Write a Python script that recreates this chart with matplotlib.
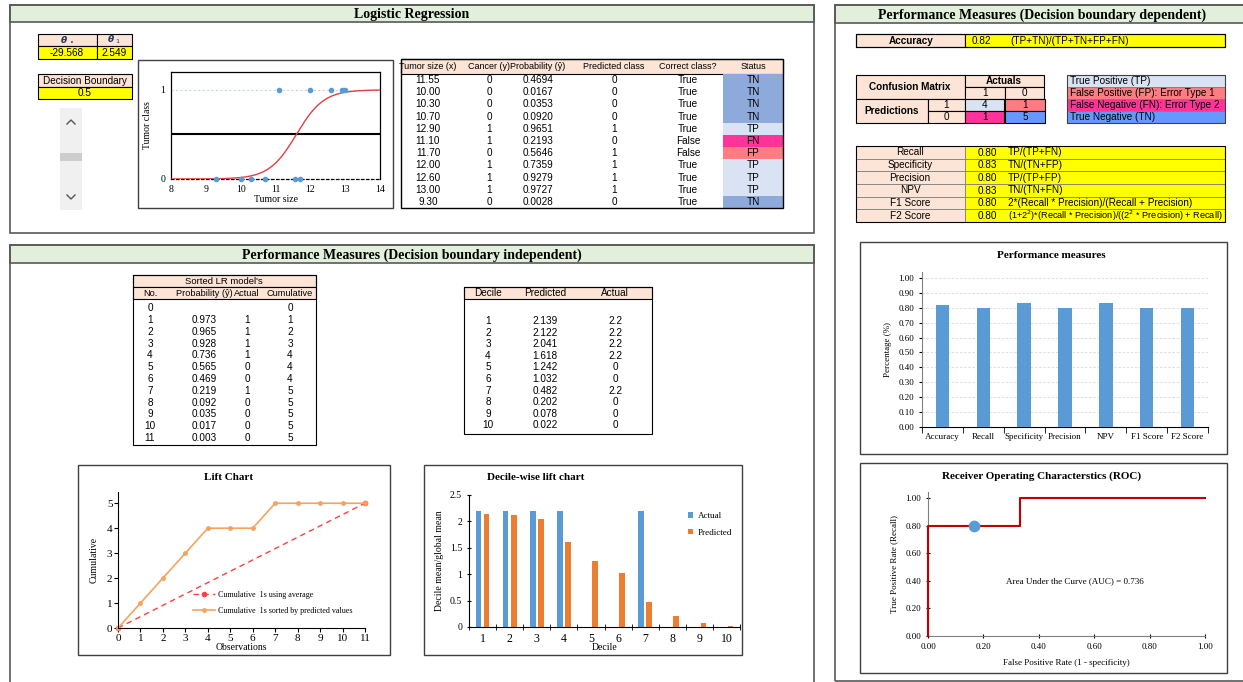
import numpy as np
import matplotlib
matplotlib.use("Agg")
import matplotlib.pyplot as plt
from matplotlib.patches import Rectangle
from matplotlib.lines import Line2D
from matplotlib.ticker import FormatStrFormatter, FixedLocator

# --- model and training data ---
theta0 = -29.568
theta1 = 2.549
boundary = 0.5

tumor_size = [11.55, 10.00, 10.30, 10.70, 12.90, 11.10, 11.70, 12.00, 12.60, 13.00, 9.30]
cancer = [0, 0, 0, 0, 1, 1, 0, 1, 1, 1, 0]
probability = [0.4694, 0.0167, 0.0353, 0.0920, 0.9651, 0.2193, 0.5646, 0.7359, 0.9279, 0.9727, 0.0028]
predicted = [0, 0, 0, 0, 1, 0, 1, 1, 1, 1, 0]
correct = ["True", "True", "True", "True", "True", "False", "False", "True", "True", "True", "True"]
status = ["TN", "TN", "TN", "TN", "TP", "FN", "FP", "TP", "TP", "TP", "TN"]

# --- sorted model output ---
sorted_no = list(range(12))
sorted_prob = ["", "0.973", "0.965", "0.928", "0.736", "0.565", "0.469", "0.219", "0.092", "0.035", "0.017", "0.003"]
sorted_actual = ["", 1, 1, 1, 1, 0, 0, 1, 0, 0, 0, 0]
cumulative = [0, 1, 2, 3, 4, 4, 4, 5, 5, 5, 5, 5]

# --- decile lift ---
deciles = list(range(1, 11))
decile_pred = [2.139, 2.122, 2.041, 1.618, 1.242, 1.032, 0.482, 0.202, 0.078, 0.022]
decile_actual = [2.2, 2.2, 2.2, 2.2, 0, 0, 2.2, 0, 0, 0]

# --- decision-boundary dependent measures ---
accuracy = 0.82
conf_counts = [[4, 1], [1, 5]]
metric_names = ["Recall", "Specificity", "Precision", "NPV", "F1 Score", "F2 Score"]
metric_values = [0.80, 0.83, 0.80, 0.83, 0.80, 0.80]
metric_formulas = ["TP/(TP+FN)", "TN/(TN+FP)", "TP/(TP+FP)", "TN/(TN+FN)",
                   "2*(Recall * Precision)/(Recall + Precision)",
                   "(1+2$^2$)*(Recall * Precision)/((2$^2$ * Precision) + Recall)"]
bar_labels = ["Accuracy", "Recall", "Specificity", "Precision", "NPV", "F1 Score", "F2 Score"]
bar_values = [accuracy] + metric_values

roc_fpr = [0, 0, 1 / 3, 1 / 3, 1]
roc_tpr = [0, 0.8, 0.8, 1, 1]
op_fpr, op_tpr = 1 / 6, 0.8
auc = 0.736

# colours
PEACH = "#fce4d6"
YELLOW = "#ffff00"
GREEN = "#e2efda"
C_TP = "#dae3f3"
C_FP = "#ff7c80"
C_FN = "#ff3399"
C_TN = "#8eaadb"
C_TN2 = "#6699ff"
BLUE = "#5b9bd5"
ORANGE = "#ed7d31"
status_colors = {"TP": C_TP, "FP": C_FP, "FN": C_FN, "TN": C_TN}

W, H = 1243, 682
fig = plt.figure(figsize=(W / 100, H / 100), dpi=100)
fig.patch.set_facecolor("white")

SANS = "Liberation Sans"
SERIF = "Liberation Serif"


def fx(x):
    return x / W


def fy(y):
    return 1 - y / H


def rect(x0, y0, x1, y1, fc="none", ec="black", lw=0.8, z=1):
    fig.patches.append(Rectangle((fx(x0), fy(y1)), (x1 - x0) / W, (y1 - y0) / H,
                                 transform=fig.transFigure, fc=fc, ec=ec, lw=lw, zorder=z))


def txt(x, y, s, ha="center", size=7.2, family=SANS, weight="normal", color="black", **kw):
    fig.text(fx(x), fy(y), s, ha=ha, va="center", fontsize=size, family=family,
             weight=weight, color=color, zorder=4, **kw)


def line(xs, ys, color="black", lw=1.0):
    fig.lines.append(Line2D([fx(v) for v in xs], [fy(v) for v in ys],
                            transform=fig.transFigure, color=color, lw=lw, zorder=3))


def axes_px(x0, y0, x1, y1):
    a = fig.add_axes([fx(x0), fy(y1), (x1 - x0) / W, (y1 - y0) / H])
    a.set_zorder(5)
    a.patch.set_alpha(0)
    return a


# --- panel frames with green headers ---
def panel(x0, y0, x1, y1, hy, title):
    rect(x0, y0, x1, hy, fc=GREEN, ec="#595959", lw=1.2)
    rect(x0, y0, x1, y1, fc="none", ec="#595959", lw=1.2)
    txt((x0 + x1) / 2, (y0 + hy) / 2 + 1, title, size=10, family=SERIF, weight="bold")


panel(10, 5, 814, 233, 22, "Logistic Regression")
panel(10, 245, 814, 690, 263, "Performance Measures (Decision boundary independent)")
panel(835, 5, 1250, 681, 23, "Performance Measures (Decision boundary dependent)")

# --- parameter cells ---
rect(38, 34, 97, 46, fc=PEACH)
rect(97, 34, 132, 46, fc=PEACH)
rect(38, 46, 97, 59, fc=YELLOW)
rect(97, 46, 132, 59, fc=YELLOW)
txt(67, 40, r"$\boldsymbol{\theta}$ $_\bullet$", size=6.5, color="#1f3864")
txt(114, 40, r"$\boldsymbol{\theta}$ $_1$", size=6.5, color="#1f3864")
txt(67, 53, f"{theta0:.3f}")
txt(114, 53, f"{theta1:.3f}")

rect(38, 74, 132, 87, fc=PEACH)
rect(38, 87, 132, 99, fc=YELLOW)
txt(85, 80.5, "Decision Boundary")
txt(85, 93, f"{boundary}")

# scrollbar
rect(60, 108, 82, 210, fc="#f0f0f0", ec="none")
rect(60, 153, 82, 161, fc="#cdcdcd", ec="none")
line([67, 71, 75], [124, 120, 124], color="#555555", lw=1)
line([67, 71, 75], [195, 199, 195], color="#555555", lw=1)

# --- logistic regression chart ---
rect(138, 60, 393, 208, fc="white", ec="#404040", lw=1.0)
ax = axes_px(171, 72, 380, 179)
xs = np.linspace(8, 14, 300)
ax.plot(xs, 1 / (1 + np.exp(-(theta0 + theta1 * xs))), color="#e04040", lw=1.0, zorder=3)
ax.axhline(boundary, color="black", lw=1.5)
ax.axhline(1, color="#c9d6e8", lw=0.8, ls=(0, (2, 2)))
ax.scatter(tumor_size, cancer, s=9, color=BLUE, zorder=4, clip_on=False)
ax.set_xlim(8, 14)
ax.set_ylim(0, 1.2)
ax.set_xticks(range(8, 15))
ax.set_yticks([0, 1])
ax.spines["bottom"].set_linestyle((0, (2, 2)))
for s in ax.spines.values():
    s.set_linewidth(0.9)
ax.tick_params(length=0, labelsize=7, pad=4)
for lab in ax.get_xticklabels() + ax.get_yticklabels():
    lab.set_family(SERIF)
ax.set_xlabel("Tumor size", family=SERIF, fontsize=7, labelpad=1)
ax.set_ylabel("Tumor class", family=SERIF, fontsize=7, labelpad=6)

# --- data table ---
cols_x = [428, 489, 538, 614, 688, 753]
headers = ["Tumor size (x)", "Cancer (y)", "Probability (ŷ)", "Predicted class", "Correct class?", "Status"]
rect(401, 59, 783, 74, fc=PEACH)
for cx, h in zip(cols_x, headers):
    txt(cx, 66.5, h, size=6.5)
row_h = (208 - 74) / len(tumor_size)
for i in range(len(tumor_size)):
    cy = 74 + row_h * (i + 0.5)
    rect(723, 74 + row_h * i, 783, 74 + row_h * (i + 1), fc=status_colors[status[i]], ec="none")
    vals = [f"{tumor_size[i]:.2f}", str(cancer[i]), f"{probability[i]:.4f}", str(predicted[i]),
            correct[i], status[i]]
    for cx, v in zip(cols_x, vals):
        txt(cx, cy, v)
rect(401, 59, 783, 208, fc="none", lw=1.0)

# --- sorted model table ---
rect(133, 275, 316, 287, fc=PEACH)
rect(133, 287, 316, 299, fc=PEACH)
txt(224, 281, "Sorted LR model's", size=6.8)
scx = [150, 204, 247, 290]
for cx, h in zip(scx, ["No.", "Probability (ŷ)", "Actual", "Cumulative"]):
    txt(cx, 293, h, size=6.6)
for i in range(len(sorted_no)):
    cy = 307.5 if i == 0 else 320 + (i - 1) * 11.8
    for cx, v in zip(scx, [sorted_no[i], sorted_prob[i], sorted_actual[i], cumulative[i]]):
        txt(cx, cy, str(v))
rect(133, 275, 316, 445, fc="none")

# --- decile table ---
rect(464, 287, 652, 299, fc=PEACH)
dcx = [488, 545, 615]
for cx, h in zip(dcx, ["Decile", "Predicted", "Actual"]):
    txt(cx, 293, h)
for i in range(len(deciles)):
    cy = 321 + i * 11.6
    a = decile_actual[i]
    for cx, v in zip(dcx, [deciles[i], f"{decile_pred[i]:.3f}", f"{a:g}"]):
        txt(cx, cy, v)
rect(464, 287, 652, 434, fc="none")

# --- lift chart ---
rect(78, 465, 390, 655, fc="white", ec="#404040", lw=1.0)
txt(229, 478, "Lift Chart", size=8, family=SERIF, weight="bold")
ax = axes_px(118, 492, 365, 628)
n_obs = len(cumulative) - 1
ax.plot([0, n_obs], [0, cumulative[-1]], color="#ff4040", ls=(0, (4, 3)), lw=1.0,
        marker="o", ms=3, label="Cumulative  1s using average", clip_on=False)
ax.plot(sorted_no, cumulative, color="#f4a460", lw=1.2, marker="o", ms=2.5,
        label="Cumulative  1s sorted by predicted values", clip_on=False)
ax.set_xlim(0, 11)
ax.set_ylim(0, 5.45)
ax.set_xticks(range(12))
ax.set_yticks(range(6))
for k in ["top", "right"]:
    ax.spines[k].set_visible(False)
ax.tick_params(labelsize=8, length=3, direction="out", pad=1)
for lab in ax.get_xticklabels() + ax.get_yticklabels():
    lab.set_family(SERIF)
ax.set_xlabel("Observations", family=SERIF, fontsize=7, labelpad=0)
ax.set_ylabel("Cumulative", family=SERIF, fontsize=7, labelpad=6)
ax.legend(loc="lower right", bbox_to_anchor=(0.98, 0.04), frameon=False,
          prop={"family": SERIF, "size": 5.8}, handlelength=2.8, labelspacing=1.0,
          handletextpad=0.4)

# --- decile-wise lift chart ---
rect(424, 465, 742, 655, fc="white", ec="#404040", lw=1.0)
txt(536, 478, "Decile-wise lift chart", size=8, family=SERIF, weight="bold")
ax = axes_px(469, 495, 740, 627)
d = np.array(deciles)
ax.bar(d - 0.15, decile_actual, width=0.21, color=BLUE, label="Actual")
ax.bar(d + 0.15, decile_pred, width=0.21, color=ORANGE, label="Predicted")
ax.set_xlim(0.5, 10.5)
ax.set_ylim(0, 2.5)
ax.set_xticks(deciles)
ax.xaxis.set_minor_locator(FixedLocator(np.arange(0.5, 11, 1)))
ax.set_yticks([0, 0.5, 1, 1.5, 2, 2.5])
ax.set_yticklabels(["0", "0.5", "1", "1.5", "2", "2.5"])
for k in ["top", "right"]:
    ax.spines[k].set_visible(False)
ax.tick_params(axis="x", which="major", length=0, labelsize=8.5, pad=4)
ax.tick_params(axis="x", which="minor", length=5, direction="inout")
ax.tick_params(axis="y", labelsize=7, length=3, direction="inout")
for lab in ax.get_xticklabels() + ax.get_yticklabels():
    lab.set_family(SERIF)
ax.set_xlabel("Decile", family=SERIF, fontsize=7, labelpad=-1)
ax.set_ylabel("Decile mean/global mean", family=SERIF, fontsize=7, labelpad=4)
ax.legend(loc="upper right", bbox_to_anchor=(1.0, 0.93), frameon=False,
          prop={"family": SERIF, "size": 6.5}, handlelength=0.6, handleheight=0.6,
          labelspacing=0.9, handletextpad=0.5)

# --- accuracy row ---
rect(856, 34, 965, 47, fc=PEACH)
rect(965, 34, 1225, 47, fc=YELLOW)
rect(856, 34, 1225, 47, fc="none")
txt(911, 40.5, "Accuracy", weight="bold")
txt(981, 40.5, f"{accuracy:.2f}")
txt(1010, 40.5, "(TP+TN)/(TP+TN+FP+FN)", ha="left")

# --- confusion matrix ---
rect(856, 75, 965, 99, fc=PEACH)
txt(910, 87, "Confusion Matrix", weight="bold")
rect(965, 75, 1044, 87, fc=PEACH)
txt(1004, 81, "Actuals", weight="bold")
rect(965, 87, 1005, 99, fc=PEACH)
rect(1005, 87, 1044, 99, fc=PEACH)
txt(985, 93, "1")
txt(1024, 93, "0")
rect(856, 99, 928, 123, fc=PEACH)
txt(892, 111, "Predictions", weight="bold")
rect(928, 99, 965, 111, fc=PEACH)
rect(928, 111, 965, 123, fc=PEACH)
txt(946, 105, "1")
txt(946, 117, "0")
cm_colors = [[C_TP, C_FP], [C_FN, C_TN2]]
for r in range(2):
    for c in range(2):
        x0 = 965 + 40 * c
        y0 = 99 + 12 * r
        rect(x0, y0, x0 + 39 + c, y0 + 12, fc=cm_colors[r][c])
        txt(x0 + 20, y0 + 6, str(conf_counts[r][c]))

# legend of outcome colours
legend_rows = [("True Positive (TP)", C_TP), ("False Positive (FP): Error Type 1", C_FP),
               ("False Negative (FN): Error Type 2", C_FN), ("True Negative (TN)", C_TN2)]
for i, (lab, col) in enumerate(legend_rows):
    rect(1067, 75 + 12 * i, 1225, 87 + 12 * i, fc=col, ec="#808080", lw=0.6)
    txt(1070, 81 + 12 * i, lab, ha="left")
rect(1067, 75, 1225, 123, fc="none", ec="#404040")

# --- metric rows ---
mh = (222 - 146) / len(metric_names)
for i, (nm, v, f) in enumerate(zip(metric_names, metric_values, metric_formulas)):
    y0 = 146 + mh * i
    rect(856, y0, 965, y0 + mh, fc=PEACH, ec="#808080", lw=0.6)
    rect(965, y0, 1225, y0 + mh, fc=YELLOW, ec="#808080", lw=0.6)
    txt(910, y0 + mh / 2, nm)
    txt(987, y0 + mh / 2 + 0.5, f"{v:.2f}")
    txt(1008, y0 + mh / 2, f, ha="left", size=6.6 if "$" in f else 7.2)
rect(856, 146, 1225, 222, fc="none")

# --- performance measures bar chart ---
rect(860, 242, 1227, 454, fc="white", ec="#404040", lw=1.0)
txt(1051, 255, "Performance measures", size=8, family=SERIF, weight="bold")
ax = axes_px(922, 272, 1208, 427)
xp = np.arange(len(bar_labels))
ax.bar(xp, bar_values, width=0.33, color=BLUE, zorder=3)
ax.set_xlim(-0.5, len(bar_labels) - 0.5)
ax.set_ylim(0, 1.04)
ax.set_yticks(np.arange(0, 1.01, 0.1))
ax.yaxis.set_major_formatter(FormatStrFormatter("%.2f"))
ax.grid(axis="y", color="#d9d9d9", ls=(0, (3, 2)), lw=0.6)
ax.set_xticks(xp)
ax.set_xticklabels(bar_labels)
ax.xaxis.set_minor_locator(FixedLocator(np.arange(-0.5, len(bar_labels), 1)))
for k in ["top", "right"]:
    ax.spines[k].set_visible(False)
ax.spines["left"].set_color("#808080")
ax.tick_params(axis="x", which="major", length=0, labelsize=6.5, pad=4)
ax.tick_params(axis="x", which="minor", length=4, direction="out")
ax.tick_params(axis="y", labelsize=6.5, length=2)
for lab in ax.get_xticklabels() + ax.get_yticklabels():
    lab.set_family(SERIF)
ax.set_ylabel("Percentage (%)", family=SERIF, fontsize=6.5, labelpad=5)

# --- ROC chart ---
rect(860, 463, 1227, 673, fc="white", ec="#404040", lw=1.0)
txt(1042, 476, "Receiver Operating Characterstics (ROC)", size=8, family=SERIF, weight="bold")
ax = axes_px(928, 492, 1205, 636)
ax.plot(roc_fpr, roc_tpr, color="#c00000", lw=1.5, zorder=3, clip_on=False)
ax.scatter([op_fpr], [op_tpr], s=55, color=BLUE, zorder=4)
ax.set_xlim(0, 1)
ax.set_ylim(0, 1.045)
ax.set_xticks(np.arange(0, 1.01, 0.2))
ax.set_yticks(np.arange(0, 1.01, 0.2))
ax.xaxis.set_major_formatter(FormatStrFormatter("%.2f"))
ax.yaxis.set_major_formatter(FormatStrFormatter("%.2f"))
for k in ["top", "right"]:
    ax.spines[k].set_visible(False)
ax.spines["left"].set_color("#808080")
ax.spines["bottom"].set_color("#808080")
ax.tick_params(labelsize=6.5, length=3, direction="inout")
for lab in ax.get_xticklabels() + ax.get_yticklabels():
    lab.set_family(SERIF)
ax.set_xlabel("False Positive Rate (1 - specificity)", family=SERIF, fontsize=6.5, labelpad=6)
ax.set_ylabel("True Positive Rate (Recall)", family=SERIF, fontsize=6.5, labelpad=5)
ax.text(0.53, 0.4, f"Area Under the Curve (AUC) = {auc}", ha="center", va="center",
        family=SERIF, fontsize=6.5)

fig.savefig("out.png", dpi=100)
